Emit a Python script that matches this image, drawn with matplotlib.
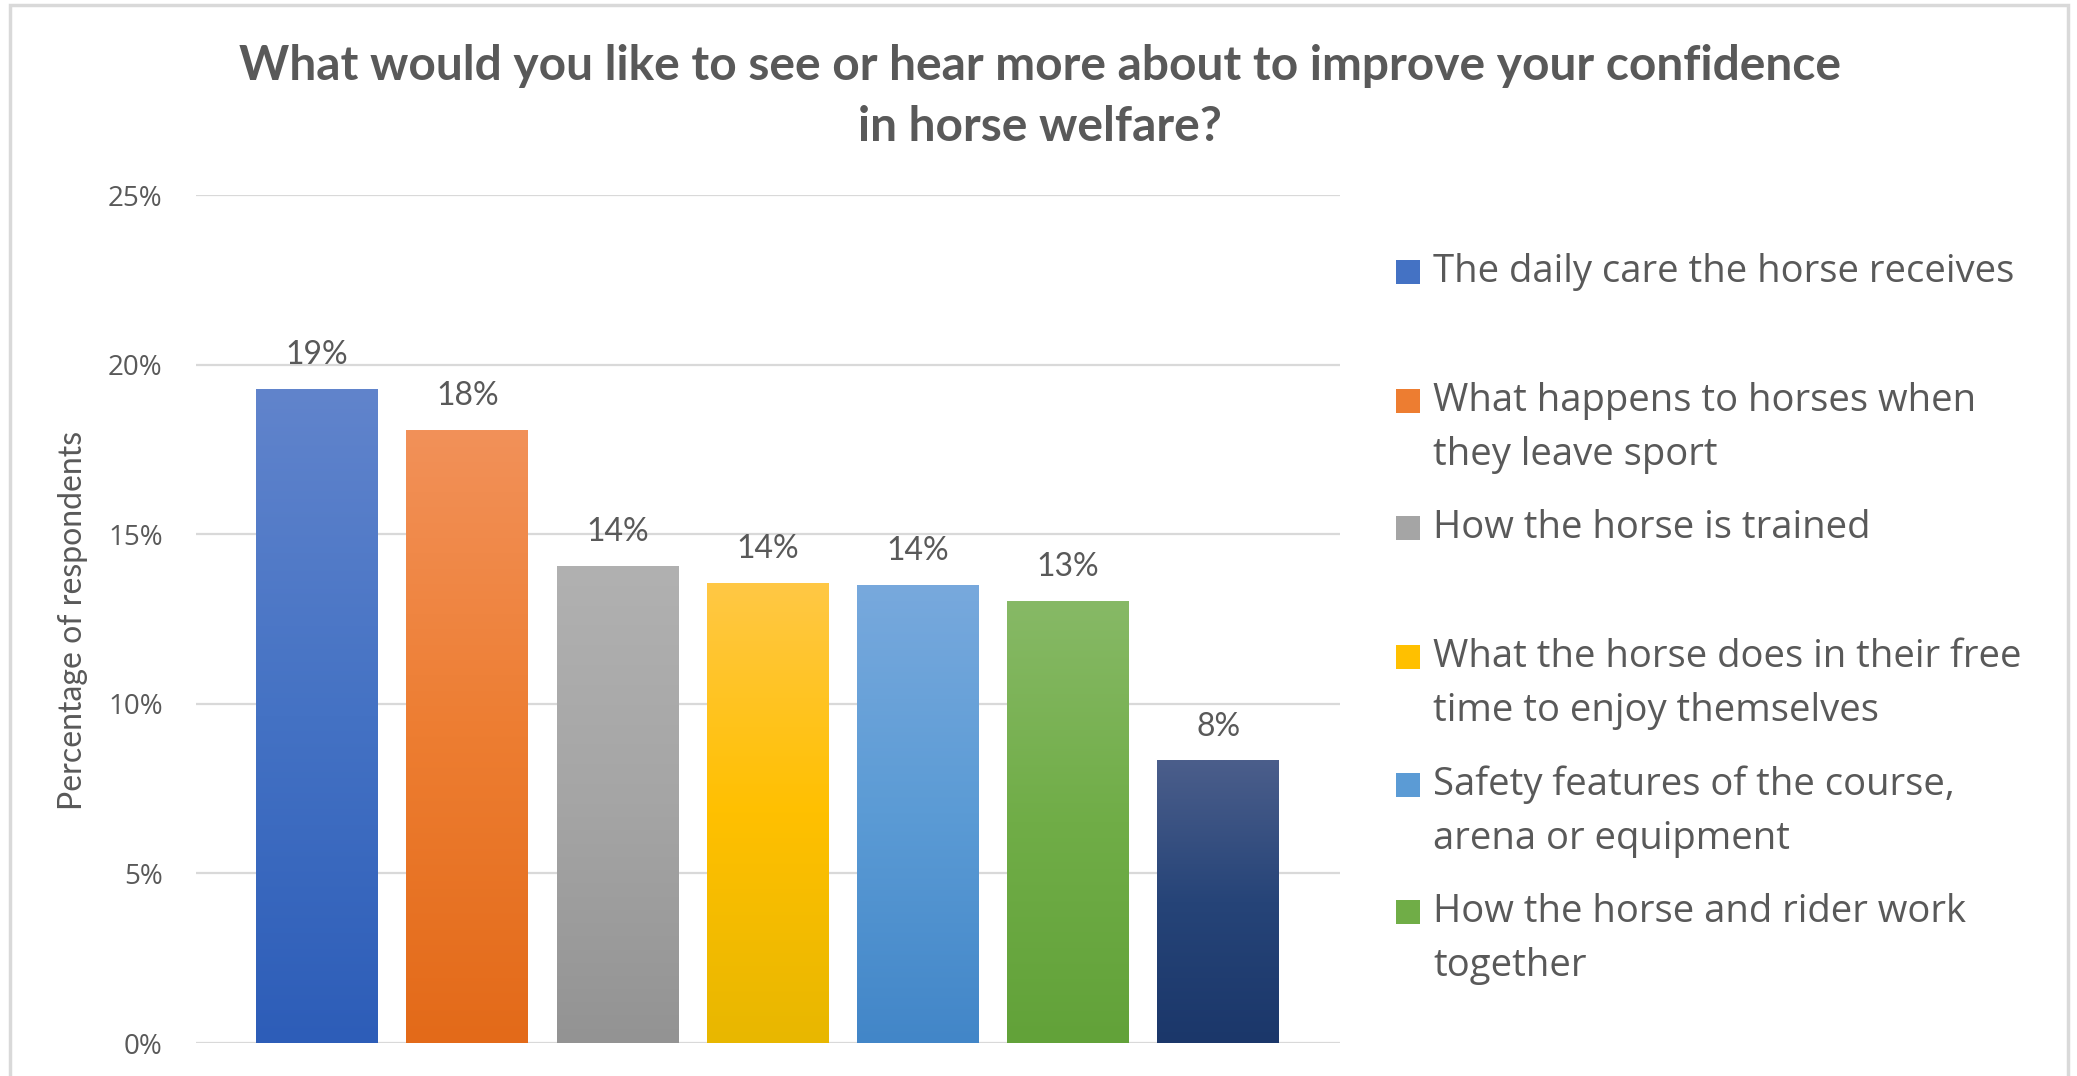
import numpy as np
import matplotlib
matplotlib.use("Agg")
import matplotlib.pyplot as plt
import matplotlib.patches as mpatches
from matplotlib.colors import LinearSegmentedColormap
from matplotlib.ticker import FuncFormatter

# Data
categories = [
    "The daily care the horse receives",
    "What happens to horses when\nthey leave sport",
    "How the horse is trained",
    "What the horse does in their free\ntime to enjoy themselves",
    "Safety features of the course,\narena or equipment",
    "How the horse and rider work\ntogether",
    "Other",
]
values = [19.27, 18.07, 14.07, 13.56, 13.51, 13.02, 8.33]
value_labels = ["19%", "18%", "14%", "14%", "14%", "13%", "8%"]
yticks = [0, 5, 10, 15, 20, 25]

# gradient colors (top, bottom) like Excel's fill
TOP = ["#6184CC", "#F29159", "#B1B1B1", "#FFC845", "#78A9DD", "#87B966", "#4B5E8B"]
BOT = ["#2D5DB8", "#E36A19", "#939393", "#E8B700", "#4286C8", "#62A239", "#1B376A"]
MID = ["#4472C4", "#ED7D31", "#A5A5A5", "#FFC000", "#5B9BD5", "#70AD47", "#264478"]

TXT = "#595959"
GRID = "#D9D9D9"
FONT = ["Lato", "DejaVu Sans"]
WIDE = ["Open Sans", "DejaVu Sans"]

W, H = 2077, 1076
fig = plt.figure(figsize=(W / 100, H / 100), dpi=100)
ax = fig.add_axes([196 / W, 1 - 1043 / H, (1340 - 196) / W, (1043 - 195) / H])

x = np.arange(len(values))
bars = ax.bar(x, values, width=0.81, color="none", edgecolor="none", zorder=3)

# gradient fill, clipped to each bar
for i, b in enumerate(bars):
    cmap = LinearSegmentedColormap.from_list(f"g{i}", [BOT[i], MID[i], TOP[i]])
    grad = np.linspace(0, 1, 256).reshape(-1, 1)
    x0, y0 = b.get_x(), b.get_y()
    im = ax.imshow(grad, cmap=cmap, origin="lower", aspect="auto",
                   extent=(x0, x0 + b.get_width(), y0, y0 + b.get_height()),
                   zorder=3)
    im.set_clip_path(b)
    # data label
    ax.text(b.get_x() + b.get_width() / 2, b.get_height() + 1.0,
            value_labels[i], ha="center", va="center", fontsize=23,
            color=TXT, family=FONT)

ax.set_xlim(-0.806, 6.81)
ax.set_ylim(0, 25)
ax.set_yticks(yticks)
ax.yaxis.set_major_formatter(FuncFormatter(lambda v, p: f"{v:.0f}%"))
ax.set_xticks([])
ax.tick_params(axis="y", length=0, pad=24, labelsize=20, labelcolor=TXT)
for lab in ax.get_yticklabels():
    lab.set_family(WIDE)
ax.grid(axis="y", color=GRID, linewidth=1.6, zorder=0)
ax.set_axisbelow(True)
for s in ax.spines.values():
    s.set_visible(False)

fig.text(73 / W, 1 - 620 / H, "Percentage of respondents", rotation=90,
         ha="center", va="center", fontsize=23, color=TXT, family=FONT)

# Title
fig.text(1040 / W, 1 - 66 / H,
         "What would you like to see or hear more about to improve your confidence",
         ha="center", va="center", fontsize=34.5, fontweight="bold", color=TXT,
         family=FONT)
fig.text(1040 / W, 1 - 127 / H, "in horse welfare?",
         ha="center", va="center", fontsize=34.5, fontweight="bold", color=TXT,
         family=FONT)

# Legend (6 visible entries, evenly pitched like Excel)
entry_y = [272, 401, 528, 657, 785, 912]
for i, yy in enumerate(entry_y):
    fig.patches.append(mpatches.Rectangle(
        (1396 / W, 1 - (yy + 12) / H), 24 / W, 24 / H,
        transform=fig.transFigure, facecolor=MID[i], edgecolor="none"))
    for j, line in enumerate(categories[i].split("\n")):
        fig.text(1433 / W, 1 - (yy + j * 54) / H, line, ha="left", va="center",
                 fontsize=27.5, color=TXT, family=WIDE)

# chart area border
fig.patches.append(mpatches.Rectangle(
    (10 / W, -0.05), (2068 - 10) / W, 1 - 5 / H + 0.05,
    transform=fig.transFigure, fill=False, edgecolor=GRID, linewidth=2.5))

fig.savefig("out.png", dpi=100)
